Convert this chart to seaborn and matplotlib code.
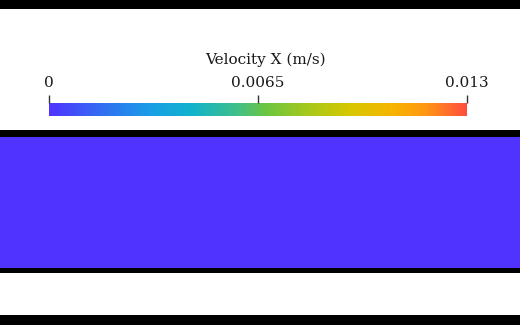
import numpy as np
import pandas as pd
import seaborn as sns
import matplotlib
matplotlib.use("Agg")
import matplotlib.pyplot as plt
from matplotlib.colors import LinearSegmentedColormap
from matplotlib.patches import Rectangle

# ---- data ----
title = "Velocity X (m/s)"
range_min = 0.0
range_max = 0.013
tick_values = [0.0, 0.0065, 0.013]
tick_labels = ["0", "0.0065", "0.013"]
# uniform velocity field in the channel (all cells at 0 m/s)
velocity_row = [0.0, 0.0, 0.0, 0.0, 0.0, 0.0, 0.0, 0.0]
velocity_field = [velocity_row, velocity_row, velocity_row, velocity_row]

# colour map stops as seen in the legend
cmap_positions = [0.0, 0.12, 0.24, 0.34, 0.45, 0.52, 0.62, 0.72, 0.82, 0.90, 1.0]
cmap_colors = ["#5033ff", "#336cf2", "#1a9de6", "#10b2cc", "#3fbf88", "#6cc540",
               "#a6c81c", "#d6c700", "#f5b500", "#ff9812", "#ff4e3c"]

cmap = LinearSegmentedColormap.from_list("vel", list(zip(cmap_positions, cmap_colors)))

W, H = 520, 325
fig = plt.figure(figsize=(W / 100, H / 100), dpi=100)
fig.patch.set_facecolor("white")

def fy(px):
    return 1 - px / H

def band(y0, y1, color="black"):
    fig.patches.append(Rectangle((0, fy(y1)), 1, (y1 - y0) / H, transform=fig.transFigure,
                                 facecolor=color, edgecolor="none", zorder=0))

# frame bands and channel walls
band(0, 9)
band(315, 325)
band(130, 137)
band(268, 273)

# channel domain
ax = fig.add_axes([0, fy(268), 1, (268 - 137) / H])
cax = fig.add_axes([49 / W, fy(116), (467 - 49) / W, 13 / H])

df = pd.DataFrame(velocity_field)
sns.heatmap(df, ax=ax, cmap=cmap, vmin=range_min, vmax=range_max, cbar_ax=cax,
            cbar_kws={"orientation": "horizontal"}, xticklabels=False, yticklabels=False)
ax.set_axis_off()

cbar = ax.collections[0].colorbar
cbar.outline.set_visible(False)
cbar.set_ticks(tick_values)
cbar.set_ticklabels(tick_labels)
cax.xaxis.set_ticks_position("top")
cax.xaxis.set_label_position("top")
cax.tick_params(axis="x", direction="out", length=6, width=1, color="#333333",
                pad=3.5, labelsize=11, labelcolor="#1a1a1a")
for lbl in cax.get_xticklabels():
    lbl.set_fontfamily("DejaVu Serif")

fig.text(265 / W, fy(60), title, ha="center", va="center", fontsize=11,
         family="DejaVu Serif", color="#1a1a1a")

fig.savefig("out.png", dpi=100, facecolor="white")
